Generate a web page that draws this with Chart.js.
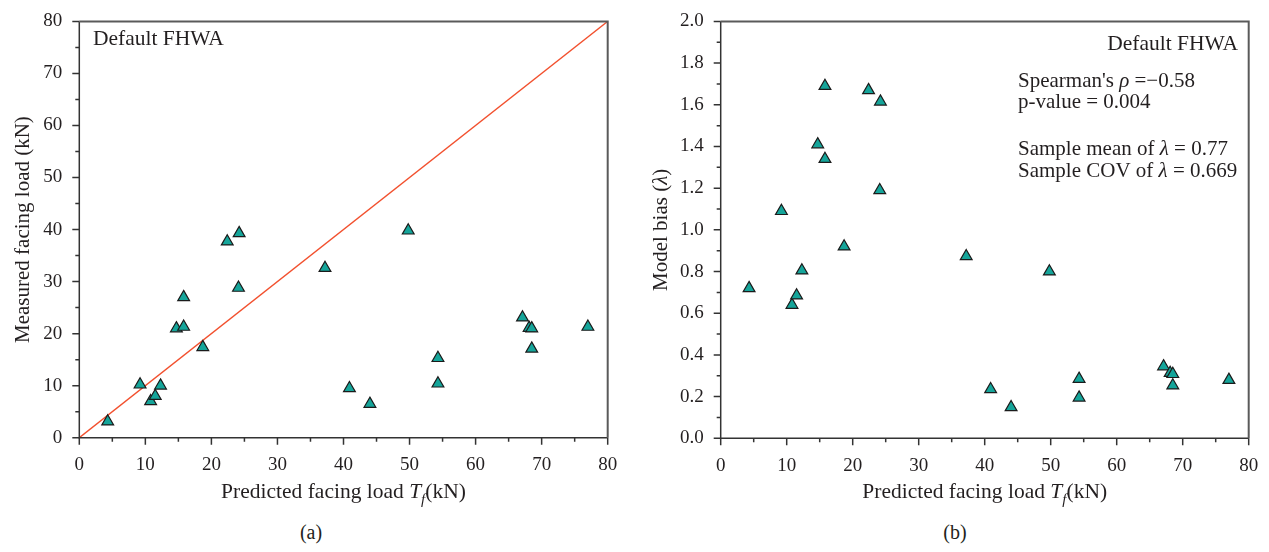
<!DOCTYPE html>
<html>
<head>
<meta charset="utf-8">
<script src="https://cdn.jsdelivr.net/npm/chart.js@4"></script>
<style>
  html, body { margin: 0; padding: 0; background: #fff; }
  #wrap { position: relative; width: 1269px; height: 552px; overflow: hidden; }
  .box { position: absolute; top: 0; height: 510px; }
  .cap { position: absolute; top: 521px; font: 20px 'Liberation Serif', serif; color: #231f20; transform: translateX(-50%); }
</style>
</head>
<body>
<div id="wrap">
  <div class="box" style="left:0;width:634px"><canvas id="chartA"></canvas></div>
  <div class="box" style="left:634px;width:635px"><canvas id="chartB"></canvas></div>
  <div class="cap" style="left:311px">(a)</div>
  <div class="cap" style="left:955px">(b)</div>
</div>
<script>
// values (23 walls)
const predicted = [4.3, 9.2, 10.8, 11.5, 12.3, 14.7, 15.8, 15.8, 18.7, 22.4, 24.2, 24.1,
                   37.2, 40.9, 44.0, 49.8, 54.3, 54.3, 67.1, 68.1, 68.5, 68.5, 77.0];
const measured = [3.1, 10.2, 7.0, 8.0, 10.0, 21.0, 21.3, 27.0, 17.4, 37.7, 39.3, 28.8,
                  32.6, 9.5, 6.5, 39.8, 15.3, 10.4, 23.1, 21.1, 21.0, 17.1, 21.3];
const bias = [0.72, 1.09, 0.64, 0.685, 0.805, 1.41, 1.34, 1.69, 0.92, 1.67, 1.615, 1.19,
              0.873, 0.235, 0.149, 0.80, 0.285, 0.195, 0.345, 0.313, 0.308, 0.253, 0.28];
const oneToOne = [0, 80];

const xTicks = [0, 10, 20, 30, 40, 50, 60, 70, 80];
const measuredTicks = [0, 10, 20, 30, 40, 50, 60, 70, 80];
const biasTicks = [0.0, 0.2, 0.4, 0.6, 0.8, 1.0, 1.2, 1.4, 1.6, 1.8, 2.0];

const FAM = "'Liberation Serif', 'DejaVu Serif', serif";
const INK = '#231f20';
const isMajor = (list, v) => list.some(m => Math.abs(m - v) < 1e-6);

function drawRich(ctx, parts, x, y, align, size) {
  const fontOf = p => (p.it ? 'italic ' : '') + (p.sub ? size * 0.7 : size) + 'px ' + FAM;
  let w = 0;
  parts.forEach(p => { ctx.font = fontOf(p); w += ctx.measureText(p.t).width; });
  let cx = align === 'center' ? x - w / 2 : align === 'right' ? x - w : x;
  parts.forEach(p => {
    ctx.font = fontOf(p);
    ctx.fillText(p.t, cx, p.sub ? y + size * 0.28 : y);
    cx += ctx.measureText(p.t).width;
  });
}

// frame, tick marks, axis titles and the text notes
const decor = {
  id: 'decor',
  afterDraw(chart, args, o) {
    const { ctx, chartArea: a, scales } = chart;
    ctx.save();
    ctx.strokeStyle = '#333';
    ctx.lineWidth = 1.5;
    ctx.beginPath();
    scales.x.ticks.forEach(t => {
      const px = scales.x.getPixelForValue(t.value);
      ctx.moveTo(px, a.bottom);
      ctx.lineTo(px, a.bottom + (isMajor(o.xMajor, t.value) ? 7 : 4));
    });
    scales.y.ticks.forEach(t => {
      const py = scales.y.getPixelForValue(t.value);
      ctx.moveTo(a.left, py);
      ctx.lineTo(a.left - (isMajor(o.yMajor, t.value) ? 7 : 4), py);
    });
    ctx.stroke();

    ctx.beginPath();
    ctx.moveTo(a.left, a.top);
    ctx.lineTo(a.left, a.bottom);
    ctx.lineTo(a.right, a.bottom);
    ctx.stroke();
    ctx.strokeStyle = '#5a5a5a';
    ctx.lineWidth = 2;
    ctx.beginPath();
    ctx.moveTo(a.left, a.top);
    ctx.lineTo(a.right, a.top);
    ctx.lineTo(a.right, a.bottom);
    ctx.stroke();

    ctx.fillStyle = INK;
    ctx.textBaseline = 'alphabetic';
    ctx.textAlign = 'left';
    drawRich(ctx, [{ t: 'Predicted facing load ' }, { t: 'T', it: true }, { t: 'f', it: true, sub: true }, { t: '(kN)' }],
      (a.left + a.right) / 2, 498, 'center', 21.5);

    ctx.save();
    ctx.translate(o.yTitleX, (a.top + a.bottom) / 2);
    ctx.rotate(-Math.PI / 2);
    drawRich(ctx, o.yTitle, 0, 7, 'center', 21);
    ctx.restore();

    o.notes.forEach(n => drawRich(ctx, n.parts, n.x, n.y, n.align, n.size));
    ctx.restore();
  }
};

function tickFont() { return { family: FAM, size: 19 }; }

function makeChart(id, yData, yTicks, yStep, yMax, yTitle, yDigits, area, notes, extra) {
  const datasets = [{
    data: predicted.map((p, i) => ({ x: p, y: yData[i] })),
    pointStyle: 'triangle',
    pointRadius: 6.8,
    pointHoverRadius: 6.8,
    backgroundColor: '#15a59a',
    borderColor: '#1b1b1b',
    borderWidth: 1.2,
    order: 1
  }].concat(extra);

  return new Chart(document.getElementById(id), {
    type: 'scatter',
    data: { datasets: datasets },
    options: {
      responsive: true,
      maintainAspectRatio: false,
      animation: false,
      events: [],
      layout: { padding: { top: area.top, right: area.right, left: 0, bottom: 0 } },
      plugins: {
        legend: { display: false },
        tooltip: { enabled: false },
        decor: { xMajor: xTicks, yMajor: yTicks, notes: notes, yTitle: yTitle, yTitleX: area.tx }
      },
      scales: {
        x: {
          type: 'linear', min: 0, max: 80,
          afterFit: s => { s.height = area.xh; },
          border: { display: false },
          grid: { drawOnChartArea: false, tickLength: 7, tickColor: 'rgba(0,0,0,0)' },
          ticks: {
            stepSize: 5, padding: 9, color: INK, font: tickFont(), maxRotation: 0, autoSkip: false,
            callback: v => isMajor(xTicks, v) ? String(v) : ''
          }
        },
        y: {
          type: 'linear', min: 0, max: yMax,
          afterFit: s => { s.width = area.yw; },
          border: { display: false },
          grid: { drawOnChartArea: false, tickLength: 7, tickColor: 'rgba(0,0,0,0)' },
          ticks: {
            stepSize: yStep, padding: 10, color: INK, font: tickFont(), autoSkip: false,
            callback: v => isMajor(yTicks, v) ? v.toFixed(yDigits) : ''
          }
        }
      }
    },
    plugins: [decor]
  });
}

makeChart('chartA', measured, measuredTicks, 5, 80,
  [{ t: 'Measured facing load (kN)' }], 0,
  { top: 14, right: 26.3, xh: 72.3, yw: 79.3, tx: 22 },
  [{ parts: [{ t: 'Default FHWA' }], x: 93, y: 45, align: 'left', size: 21.5 }],
  [{
    data: oneToOne.map(v => ({ x: v, y: v })),
    showLine: true,
    borderColor: '#f2502e',
    borderWidth: 1.4,
    pointRadius: 0,
    order: 2
  }]);

makeChart('chartB', bias, biasTicks, 0.1, 2.0,
  [{ t: 'Model bias (' }, { t: 'λ', it: true }, { t: ')' }], 1,
  { top: 13.5, right: 20.3, xh: 71.7, yw: 86.7, tx: 26 },
  [
    { parts: [{ t: 'Default FHWA' }], x: 604, y: 50, align: 'right', size: 21.5 },
    { parts: [{ t: "Spearman's " }, { t: 'ρ', it: true }, { t: ' =−0.58' }], x: 384, y: 86.5, align: 'left', size: 21 },
    { parts: [{ t: 'p-value = 0.004' }], x: 384, y: 107.5, align: 'left', size: 21 },
    { parts: [{ t: 'Sample mean of ' }, { t: 'λ', it: true }, { t: ' = 0.77' }], x: 384, y: 155, align: 'left', size: 21 },
    { parts: [{ t: 'Sample COV of ' }, { t: 'λ', it: true }, { t: ' = 0.669' }], x: 384, y: 176.5, align: 'left', size: 21 }
  ],
  []);
</script>
</body>
</html>
